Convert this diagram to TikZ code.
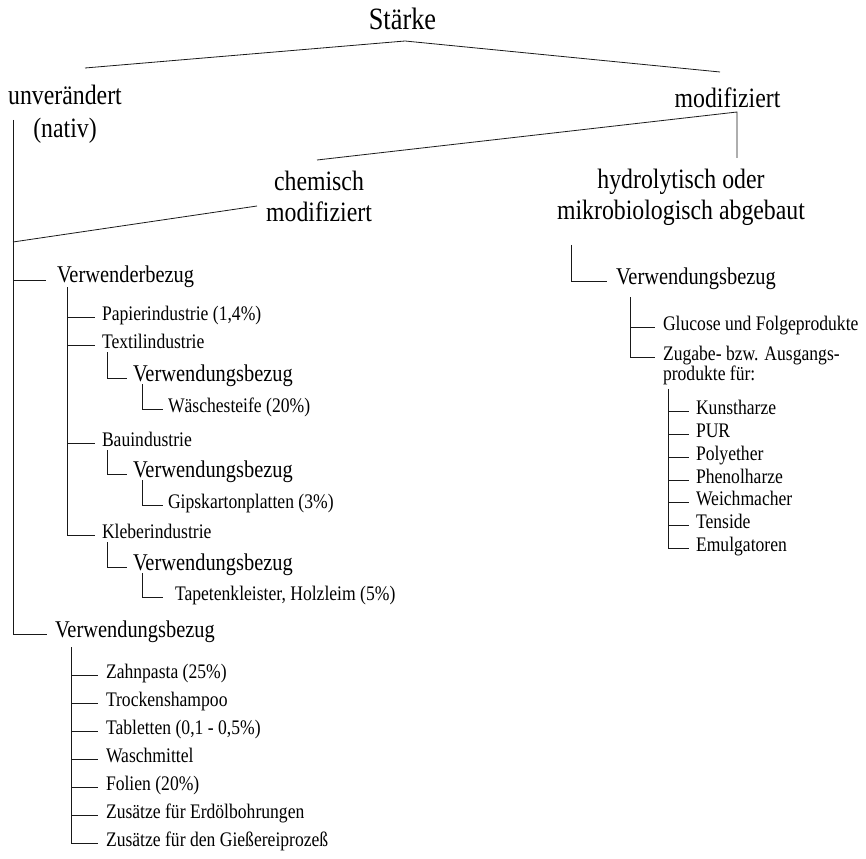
\documentclass[tikz,border=0pt]{standalone}
\usepackage{fontspec}
\setmainfont{Liberation Serif}[FakeStretch=0.85]
\usetikzlibrary{calc}

\begin{document}
\begin{tikzpicture}[x=1pt,y=-1pt,
  every node/.style={inner sep=0pt, outer sep=0pt, text=black},
  toplabel/.style={font=\fontsize{31}{36}\selectfont, anchor=base},
  biglabel/.style={font=\fontsize{28}{31}\selectfont, anchor=base},
  midlabel/.style={font=\fontsize{24}{28}\selectfont, anchor=base west, inner xsep=8pt},
  smalllabel/.style={font=\fontsize{20.7}{20.5}\selectfont, anchor=base west, inner xsep=7pt},
  link/.style={line width=0.8pt, draw=black!90},
]
\useasboundingbox (0,0) rectangle (866,858);

% ---------- upper levels ----------
\node[toplabel] (staerke) at (402.5,30) {Stärke};
\node[biglabel, font=\fontsize{28}{33}\selectfont] (nativ) at (65,105)
  {\begin{tabular}[t]{@{}c@{}}unverändert\\(nativ)\end{tabular}};
\node[biglabel] (modif) at (727.5,108) {modifiziert};
\node[biglabel] (chem) at (319,191)
  {\begin{tabular}[t]{@{}c@{}}chemisch\\modifiziert\end{tabular}};
\node[biglabel] (hydro) at (681,189)
  {\begin{tabular}[t]{@{}c@{}}hydrolytisch oder\\mikrobiologisch abgebaut\end{tabular}};

\coordinate (apex) at (405,41);
\coordinate (apexL) at (85,68);
\coordinate (apexR) at (720,72);
\coordinate (modC) at (737,112);
\coordinate (modL) at (317,160);
\coordinate (modB) at (737,158);
\coordinate (chemR) at (257,206);
\coordinate (chemL) at (13,242);
\coordinate (trunk) at (13,120);
\coordinate (hydroT) at (571,245);

\draw[link] (apexL) -- (apex) -- (apexR);
\draw[link] (modL) -- (modC) -- (modB);
\draw[link] (chemR) -- (chemL);

% ---------- left branch ----------
\node[midlabel, inner xsep=11pt] (verw1) at (46,283) {Verwenderbezug};
\node[smalllabel] (papier) at (95,320) {Papierindustrie (1,4\%)};
\node[smalllabel] (textil) at (95,348) {Textilindustrie};
\node[midlabel, inner xsep=6pt] (tverw) at (127,381) {Verwendungsbezug};
\node[smalllabel, inner xsep=5pt] (waesche) at (163,412) {Wäschesteife (20\%)};
\node[smalllabel] (bau) at (95,446) {Bauindustrie};
\node[midlabel, inner xsep=6pt] (bverw) at (127,477) {Verwendungsbezug};
\node[smalllabel, inner xsep=5pt] (gips) at (163,508) {Gipskartonplatten (3\%)};
\node[smalllabel] (kleber) at (95,538) {Kleberindustrie};
\node[midlabel, inner xsep=6pt] (kverw) at (127,570) {Verwendungsbezug};
\node[smalllabel, inner xsep=12pt] (tapete) at (163,600) {Tapetenkleister, Holzleim (5\%)};

\node[midlabel] (verw2) at (47,637) {Verwendungsbezug};
\node[smalllabel, inner xsep=8pt] (zahn) at (98,678) {Zahnpasta (25\%)};
\node[smalllabel, inner xsep=8pt] (trocken) at (98,706) {Trockenshampoo};
\node[smalllabel, inner xsep=8pt] (tabl) at (98,734) {Tabletten (0,1 - 0,5\%)};
\node[smalllabel, inner xsep=8pt] (wasch) at (98,762) {Waschmittel};
\node[smalllabel, inner xsep=8pt] (folien) at (98,790) {Folien (20\%)};
\node[smalllabel, inner xsep=8pt] (erdoel) at (98,818) {Zusätze für Erdölbohrungen};
\node[smalllabel, inner xsep=8pt] (giess) at (98,846) {Zusätze für den Gießereiprozeß};

% main trunk
\draw[link] (trunk) |- (verw2.mid west);
\draw[link] (trunk |- verw1.mid west) -- (verw1.mid west);

% industries
\coordinate (indT) at ([xshift=21pt,yshift=-4pt]verw1.base west);
\draw[link] (indT) |- (kleber.mid west);
\foreach \n in {papier,textil,bau}
  \draw[link] (indT |- \n.mid west) -- (\n.mid west);

\draw[link] ([xshift=12pt,yshift=-4pt]textil.base west) |- (tverw.mid west);
\draw[link] ([xshift=15pt,yshift=-3pt]tverw.base west) |- (waesche.mid west);
\draw[link] ([xshift=12pt,yshift=-4pt]bau.base west) |- (bverw.mid west);
\draw[link] ([xshift=15pt,yshift=-3pt]bverw.base west) |- (gips.mid west);
\draw[link] ([xshift=12pt,yshift=-4pt]kleber.base west) |- (kverw.mid west);
\draw[link] ([xshift=15pt,yshift=-3pt]kverw.base west) |- (tapete.mid west);

% uses
\coordinate (useT) at ([xshift=24pt,yshift=-10pt]verw2.base west);
\draw[link] (useT) |- (giess.mid west);
\foreach \n in {zahn,trocken,tabl,wasch,folien,erdoel}
  \draw[link] (useT |- \n.mid west) -- (\n.mid west);

% ---------- right branch ----------
\node[midlabel, inner xsep=9pt] (rverw) at (607,284) {Verwendungsbezug};
\node[smalllabel, inner xsep=8pt] (gluc) at (655,330) {Glucose und Folgeprodukte};
\node[smalllabel, inner xsep=8pt] (zugabe) at (655,360)
  {\begin{tabular}[t]{@{}l@{}}Zugabe- bzw. Ausgangs-\\produkte für:\end{tabular}};
\node[smalllabel] (kunst) at (689,414) {Kunstharze};
\node[smalllabel] (pur) at (689,437) {PUR};
\node[smalllabel] (polyeth) at (689,460) {Polyether};
\node[smalllabel] (phenol) at (689,483) {Phenolharze};
\node[smalllabel] (weich) at (689,505) {Weichmacher};
\node[smalllabel] (tens) at (689,528) {Tenside};
\node[smalllabel] (emul) at (689,551) {Emulgatoren};

\draw[link] (hydroT) |- (rverw.mid west);
\coordinate (glT) at ([xshift=23pt,yshift=-13pt]rverw.base west);
\draw[link] (glT) |- (zugabe.mid west);
\draw[link] (glT |- gluc.mid west) -- (gluc.mid west);

\coordinate (prT) at ([xshift=13pt,yshift=-2pt]zugabe.south west);
\draw[link] (prT) |- (emul.mid west);
\foreach \n in {kunst,pur,polyeth,phenol,weich,tens}
  \draw[link] (prT |- \n.mid west) -- (\n.mid west);

\end{tikzpicture}
\end{document}
